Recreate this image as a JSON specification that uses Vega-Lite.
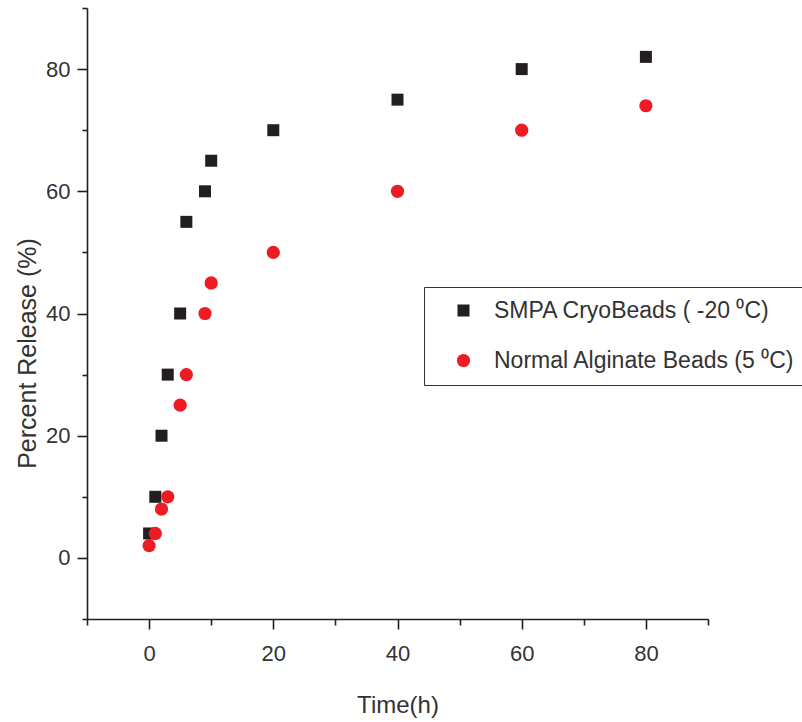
{
  "$schema": "https://vega.github.io/schema/vega-lite/v6.json",
  "width": 621,
  "height": 611,
  "autosize": {"type": "none"},
  "padding": {"left": 87, "top": 8, "right": 94, "bottom": 103},
  "background": "white",
  "data": {
    "values": [
      {"series": "SMPA CryoBeads ( -20 ⁰C)", "time": 0, "release": 4},
      {"series": "SMPA CryoBeads ( -20 ⁰C)", "time": 1, "release": 10},
      {"series": "SMPA CryoBeads ( -20 ⁰C)", "time": 2, "release": 20},
      {"series": "SMPA CryoBeads ( -20 ⁰C)", "time": 3, "release": 30},
      {"series": "SMPA CryoBeads ( -20 ⁰C)", "time": 5, "release": 40},
      {"series": "SMPA CryoBeads ( -20 ⁰C)", "time": 6, "release": 55},
      {"series": "SMPA CryoBeads ( -20 ⁰C)", "time": 9, "release": 60},
      {"series": "SMPA CryoBeads ( -20 ⁰C)", "time": 10, "release": 65},
      {"series": "SMPA CryoBeads ( -20 ⁰C)", "time": 20, "release": 70},
      {"series": "SMPA CryoBeads ( -20 ⁰C)", "time": 40, "release": 75},
      {"series": "SMPA CryoBeads ( -20 ⁰C)", "time": 60, "release": 80},
      {"series": "SMPA CryoBeads ( -20 ⁰C)", "time": 80, "release": 82},
      {"series": "Normal Alginate Beads (5 ⁰C)", "time": 0, "release": 2},
      {"series": "Normal Alginate Beads (5 ⁰C)", "time": 1, "release": 4},
      {"series": "Normal Alginate Beads (5 ⁰C)", "time": 2, "release": 8},
      {"series": "Normal Alginate Beads (5 ⁰C)", "time": 3, "release": 10},
      {"series": "Normal Alginate Beads (5 ⁰C)", "time": 5, "release": 25},
      {"series": "Normal Alginate Beads (5 ⁰C)", "time": 6, "release": 30},
      {"series": "Normal Alginate Beads (5 ⁰C)", "time": 9, "release": 40},
      {"series": "Normal Alginate Beads (5 ⁰C)", "time": 10, "release": 45},
      {"series": "Normal Alginate Beads (5 ⁰C)", "time": 20, "release": 50},
      {"series": "Normal Alginate Beads (5 ⁰C)", "time": 40, "release": 60},
      {"series": "Normal Alginate Beads (5 ⁰C)", "time": 60, "release": 70},
      {"series": "Normal Alginate Beads (5 ⁰C)", "time": 80, "release": 74}
    ]
  },
  "mark": {"type": "point", "filled": true, "opacity": 1, "strokeWidth": 0},
  "encoding": {
    "x": {
      "field": "time", "type": "quantitative",
      "scale": {"domain": [-10, 90], "nice": false, "zero": false},
      "axis": {
        "title": "Time(h)",
        "values": [-10, 0, 10, 20, 30, 40, 50, 60, 70, 80, 90],
        "labelExpr": "datum.value % 20 === 0 ? datum.label : ''",
        "tickSize": {"condition": {"test": "datum.value % 20 === 0", "value": 10}, "value": 6},
        "labelPadding": 14,
        "titleY": 93,
        "titleBaseline": "alphabetic",
        "titleFontSize": 24
      }
    },
    "y": {
      "field": "release", "type": "quantitative",
      "scale": {"domain": [-10, 90], "nice": false, "zero": false},
      "axis": {
        "title": "Percent Release (%)",
        "values": [-10, 0, 10, 20, 30, 40, 50, 60, 70, 80, 90],
        "labelExpr": "datum.value % 20 === 0 ? datum.label : ''",
        "tickSize": {"condition": {"test": "datum.value % 20 === 0", "value": 10}, "value": 5},
        "labelPadding": 7,
        "titleX": -52,
        "titleY": 345,
        "titleAngle": -90,
        "titleAlign": "center",
        "titleBaseline": "alphabetic",
        "titleFontSize": 25
      }
    },
    "color": {
      "field": "series", "type": "nominal",
      "scale": {"domain": ["SMPA CryoBeads ( -20 ⁰C)", "Normal Alginate Beads (5 ⁰C)"], "range": ["#231f20", "#ed1c24"]},
      "legend": {"title": null}
    },
    "shape": {
      "field": "series", "type": "nominal",
      "scale": {"domain": ["SMPA CryoBeads ( -20 ⁰C)", "Normal Alginate Beads (5 ⁰C)"], "range": ["square", "circle"]}
    },
    "size": {
      "field": "series", "type": "nominal",
      "scale": {"domain": ["SMPA CryoBeads ( -20 ⁰C)", "Normal Alginate Beads (5 ⁰C)"], "range": [144, 175]}
    }
  },
  "config": {
    "view": {"stroke": null},
    "font": "Liberation Sans",
    "axis": {
      "grid": false,
      "domainColor": "#231f20",
      "domainWidth": 1.6,
      "tickColor": "#231f20",
      "tickWidth": 1.6,
      "labelFont": "Liberation Sans",
      "labelFontSize": 22,
      "labelColor": "#333333",
      "titleFont": "Liberation Sans",
      "titleFontWeight": "normal",
      "titleColor": "#333333"
    },
    "legend": {
      "orient": "none",
      "legendX": 337,
      "legendY": 279,
      "strokeColor": "#333333",
      "padding": 12,
      "symbolOffset": 16,
      "labelOffset": 19,
      "rowPadding": 26,
      "labelFont": "Liberation Sans",
      "labelFontSize": 23,
      "labelColor": "#333333",
      "labelLimit": 0,
      "symbolStrokeWidth": 0
    }
  }
}
